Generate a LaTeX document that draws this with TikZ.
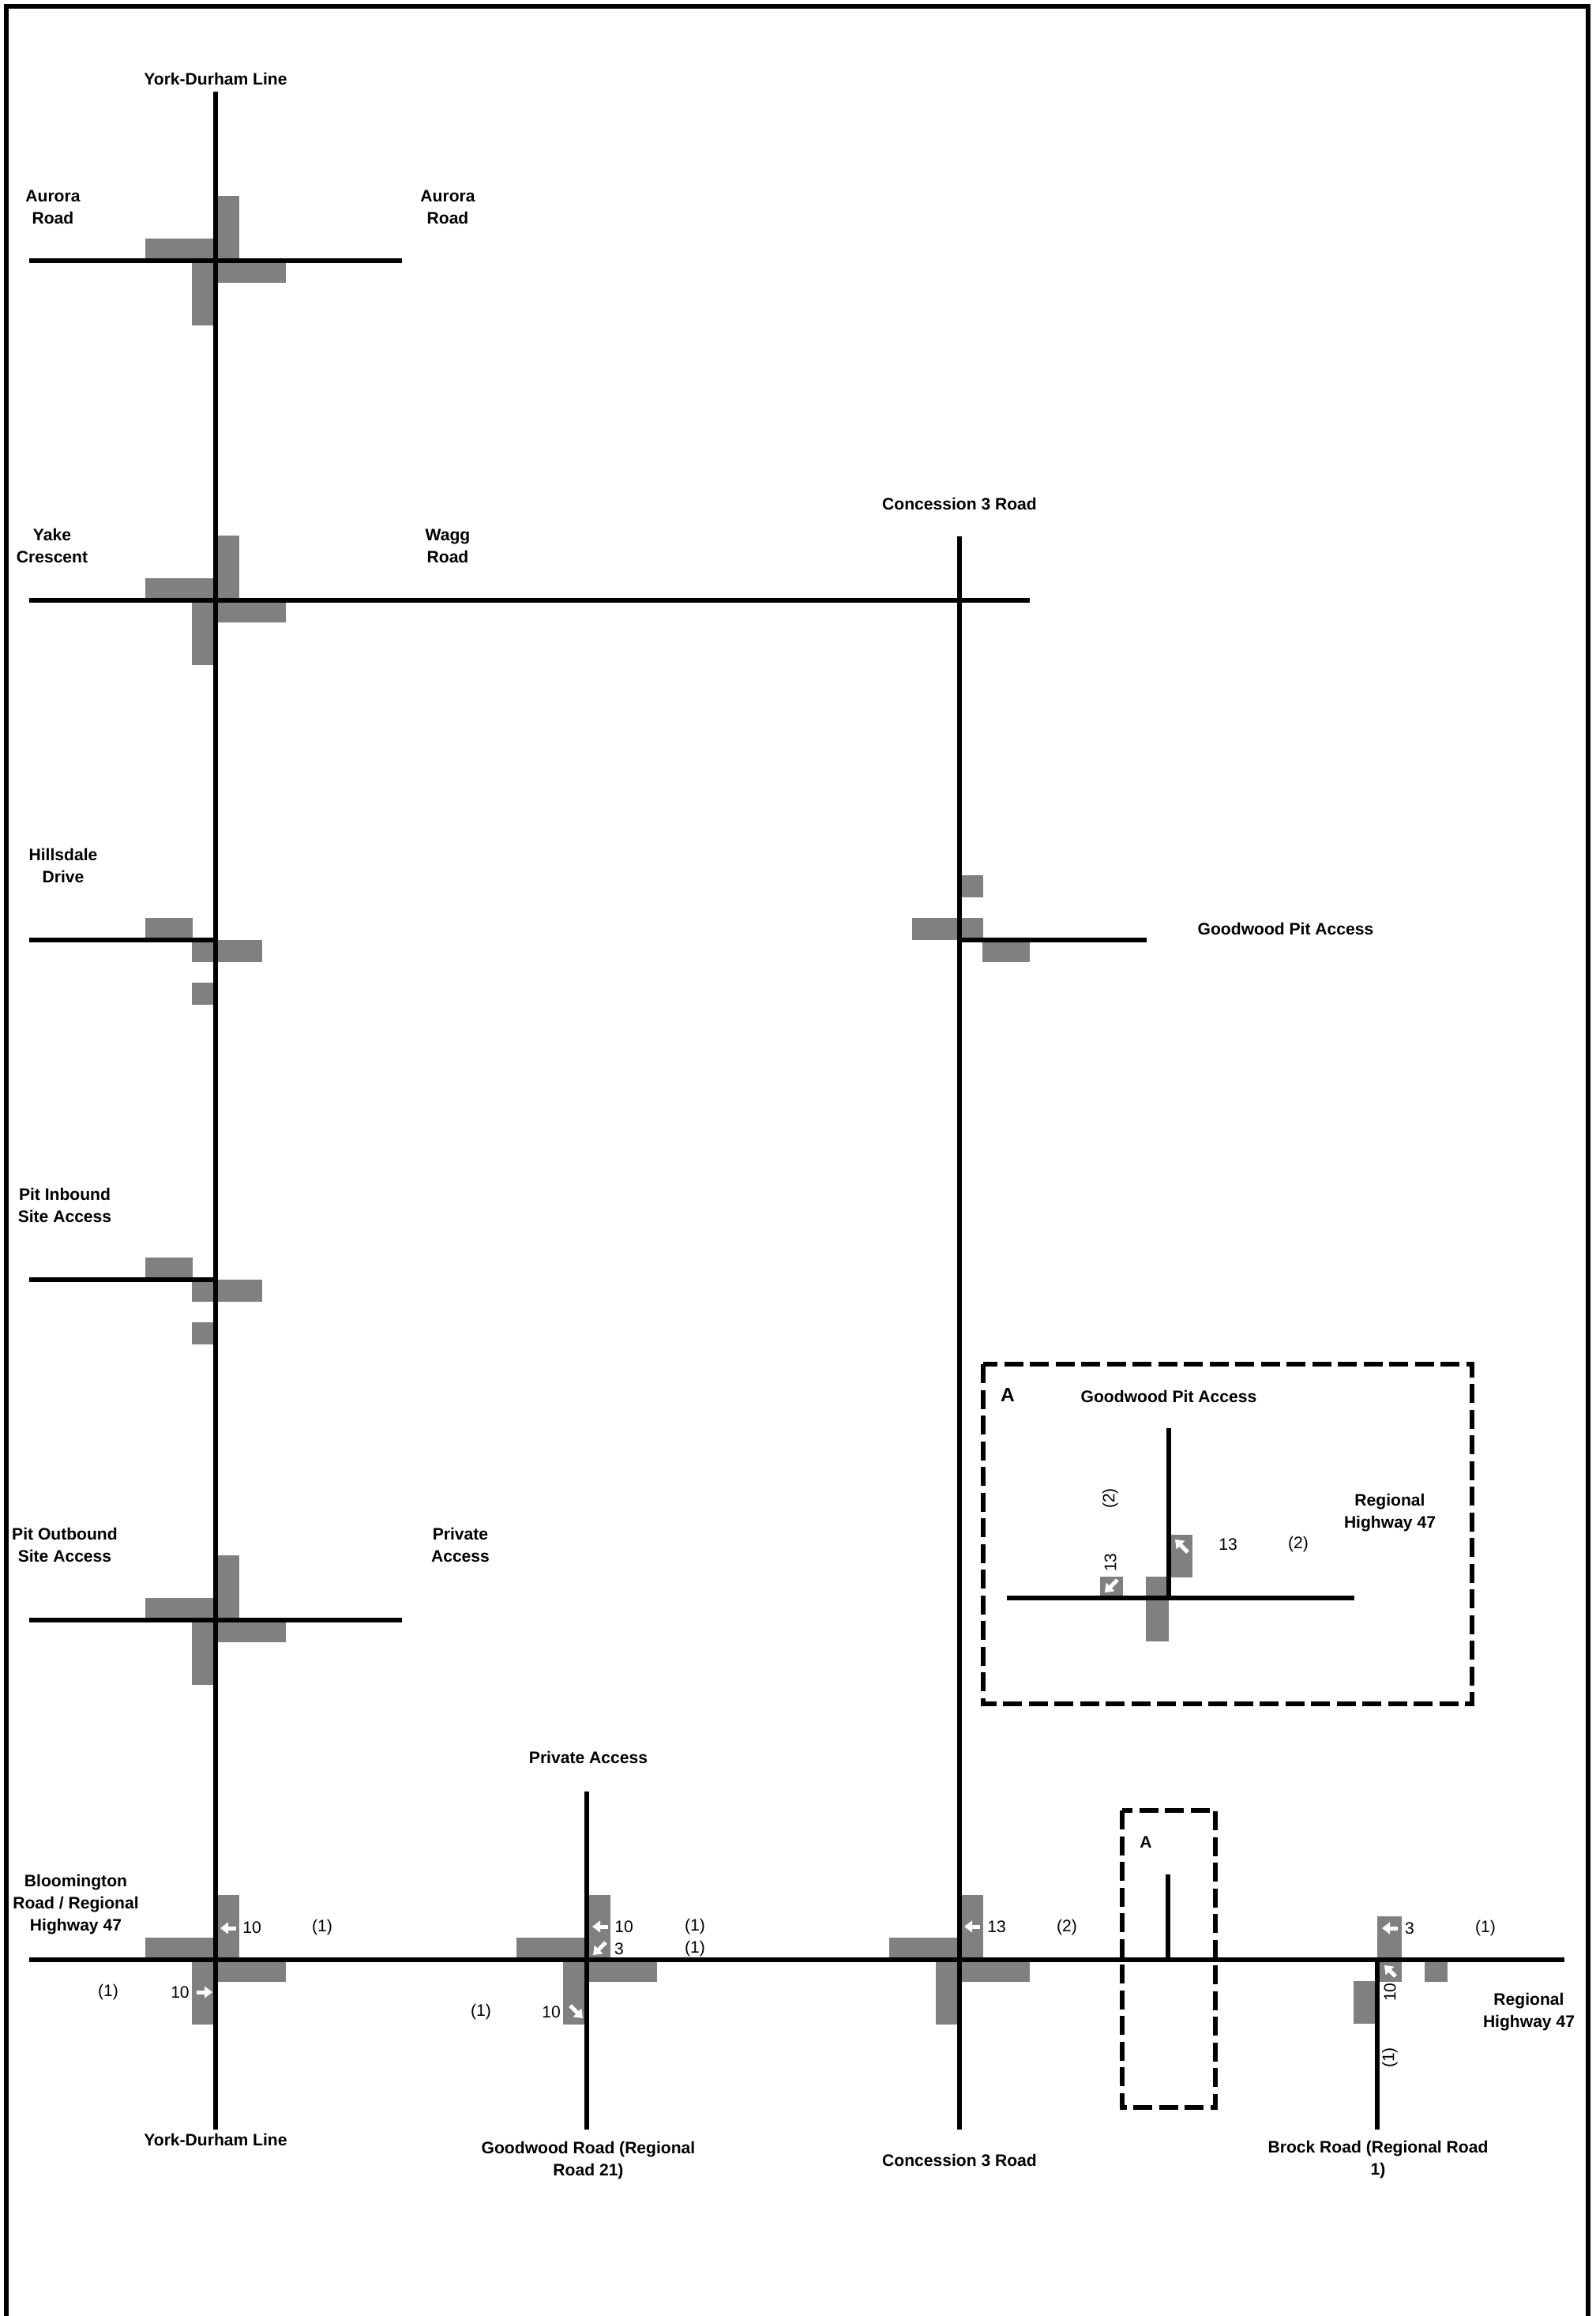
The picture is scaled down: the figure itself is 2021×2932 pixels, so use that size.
\documentclass[tikz,border=0pt]{standalone}
\usepackage{fontspec}
\setmainfont{Liberation Sans}
\usetikzlibrary{arrows.meta}
\definecolor{flowgray}{RGB}{128,128,128}

\begin{document}
\begin{tikzpicture}[x=0.1mm, y=-0.1mm,
  road/.style={line width=0.55mm},
  border/.style={line width=0.55mm},
  insetbox/.style={line width=0.55mm, dash pattern=on 2.4mm off 0.85mm},
  lbl/.style={font=\fontsize{6pt}{7.97pt}\selectfont\bfseries, align=center, inner sep=0pt},
  num/.style={font=\fontsize{6pt}{7.97pt}\selectfont, inner sep=0pt},
  arw/.style={white, line width=0.5mm, -{Triangle[length=1mm, width=1.45mm]}}]

  \useasboundingbox (0,0) rectangle (2021,2932);

  % Draw the page border (open at the bottom)
  \draw[border] (8,2945) -- (8,8) -- (2011,8) -- (2011,2945);

  % Define the columns of the north-south roads
  \def\xYD{273}
  \def\xGW{743}
  \def\xCon{1215}
  \def\xBR{1744}
  \def\yHwy{2481}

  % Gray bars of the full four-leg intersections
  \foreach \x/\y in {\xYD/330, \xYD/760, \xYD/2051, \xYD/\yHwy, \xGW/\yHwy, \xCon/\yHwy} {
    \fill[flowgray] (\x,\y-82) rectangle (\x+30,\y);
    \fill[flowgray] (\x-89,\y-28) rectangle (\x,\y);
    \fill[flowgray] (\x,\y) rectangle (\x+89,\y+28);
    \fill[flowgray] (\x-30,\y) rectangle (\x,\y+82);
  }

  % Gray bars of the site accesses on York-Durham Line
  \foreach \y in {1190,1620} {
    \fill[flowgray] (\xYD-89,\y-28) rectangle (\xYD-29,\y);
    \fill[flowgray] (\xYD-30,\y) rectangle (\xYD+59,\y+28);
    \fill[flowgray] (\xYD-30,\y+54) rectangle (\xYD,\y+82);
  }

  % Goodwood Pit Access on Concession 3 Road
  \fill[flowgray] (\xCon,1108) rectangle (\xCon+30,1136);
  \fill[flowgray] (\xCon-60,1162) rectangle (\xCon+30,1190);
  \fill[flowgray] (\xCon+29,1190) rectangle (\xCon+89,1218);

  % Brock Road
  \fill[flowgray] (\xBR,\yHwy-55) rectangle (\xBR+31,\yHwy);
  \fill[flowgray] (\xBR,\yHwy) rectangle (\xBR+31,\yHwy+28);
  \fill[flowgray] (\xBR+60,\yHwy) rectangle (\xBR+89,\yHwy+28);
  \fill[flowgray] (\xBR-30,\yHwy+27) rectangle (\xBR,\yHwy+81);

  % Inset A
  \fill[flowgray] (1480,1943) rectangle (1510,1997);
  \fill[flowgray] (1393,1996) rectangle (1422,2023);
  \fill[flowgray] (1451,1996) rectangle (1480,2078);

  % Road end points
  \coordinate (yd-top) at (\xYD,116);
  \coordinate (yd-bot) at (\xYD,2696);
  \coordinate (con-top) at (\xCon,679);
  \coordinate (con-bot) at (\xCon,2696);
  \coordinate (gw-top) at (\xGW,2268);
  \coordinate (gw-bot) at (\xGW,2696);
  \coordinate (br-top) at (\xBR,\yHwy);
  \coordinate (br-bot) at (\xBR,2696);
  \coordinate (aur-w) at (37,330);
  \coordinate (aur-e) at (509,330);
  \coordinate (wagg-w) at (37,760);
  \coordinate (wagg-e) at (1304,760);
  \coordinate (hill-w) at (37,1190);
  \coordinate (hill-e) at (\xYD,1190);
  \coordinate (pin-w) at (37,1620);
  \coordinate (pin-e) at (\xYD,1620);
  \coordinate (pout-w) at (37,2051);
  \coordinate (pout-e) at (509,2051);
  \coordinate (hwy-w) at (37,\yHwy);
  \coordinate (hwy-e) at (1981,\yHwy);
  \coordinate (pit-w) at (\xCon,1190);
  \coordinate (pit-e) at (1452,1190);
  \coordinate (stub-top) at (1479,2373);
  \coordinate (stub-bot) at (1479,\yHwy);
  \coordinate (ins-top) at (1480,1808);
  \coordinate (ins-mid) at (1480,2023);
  \coordinate (ins-w) at (1275,2023);
  \coordinate (ins-e) at (1715,2023);

  % Draw the roads
  \draw[road] (yd-top) -- (yd-bot);
  \draw[road] (con-top) -- (con-bot);
  \draw[road] (gw-top) -- (gw-bot);
  \draw[road] (br-top) -- (br-bot);
  \draw[road] (aur-w) -- (aur-e);
  \draw[road] (wagg-w) -- (wagg-e);
  \draw[road] (hill-w) -- (hill-e);
  \draw[road] (pin-w) -- (pin-e);
  \draw[road] (pout-w) -- (pout-e);
  \draw[road] (hwy-w) -- (hwy-e);
  \draw[road] (pit-w) -- (pit-e);
  \draw[road] (stub-top) -- (stub-bot);
  \draw[road] (ins-top) -- (ins-mid);
  \draw[road] (ins-w) -- (ins-e);

  % Dashed boxes
  \draw[insetbox] (1245,1727) rectangle (1864,2157);
  \draw[insetbox] (1421,2292) rectangle (1539,2668);

  % White turning arrows
  \draw[arw] (299,2441) -- (279,2441);
  \draw[arw] (249,2522) -- (269,2522);
  \draw[arw] (770,2439) -- (750,2439);
  \draw[arw] (767,2459) -- (751,2475);
  \draw[arw] (722,2539) -- (738,2555);
  \draw[arw] (1241,2439) -- (1221,2439);
  \draw[arw] (1770,2441) -- (1750,2441);
  \draw[arw] (1767,2502) -- (1753,2488);
  \draw[arw] (1504,1965) -- (1488,1949);
  \draw[arw] (1415,2000) -- (1399,2016);

  % Volumes
  \node[num] (yd-n-vol) at (319,2440) {10};
  \node[num] (yd-n-pct) at (408,2440) {(1)};
  \node[num] (yd-s-vol) at (228,2522) {10};
  \node[num] (yd-s-pct) at (137,2522) {(1)};
  \node[num] (gw-n-vol) at (790,2439) {10};
  \node[num] (gw-n-pct) at (880,2439) {(1)};
  \node[num] (gw-r-vol) at (784,2467) {3};
  \node[num] (gw-r-pct) at (880,2467) {(1)};
  \node[num] (gw-s-vol) at (698,2547) {10};
  \node[num] (gw-s-pct) at (609,2547) {(1)};
  \node[num] (con-n-vol) at (1262,2439) {13};
  \node[num] (con-n-pct) at (1351,2440) {(2)};
  \node[num] (br-n-vol) at (1785,2441) {3};
  \node[num] (br-n-pct) at (1881,2441) {(1)};
  \node[num, rotate=90] (br-s-vol) at (1760,2522) {10};
  \node[num, rotate=90] (br-s-pct) at (1760,2605) {(1)};
  \node[num, rotate=90] (ins-w-pct) at (1406,1897) {(2)};
  \node[num, rotate=90] (ins-w-vol) at (1406,1978) {13};
  \node[num] (ins-e-vol) at (1555,1955) {13};
  \node[num] (ins-e-pct) at (1644,1955) {(2)};

  % Road names
  \node[lbl] (yd-n-lbl) at (\xYD,100) {York-Durham Line};
  \node[lbl] (aur-w-lbl) at (67,262) {Aurora\\Road};
  \node[lbl] (aur-e-lbl) at (567,262) {Aurora\\Road};
  \node[lbl] (yake-lbl) at (66,691) {Yake\\Crescent};
  \node[lbl] (wagg-lbl) at (567,691) {Wagg\\Road};
  \node[lbl] (con-n-lbl) at (\xCon,638) {Concession 3 Road};
  \node[lbl] (hill-lbl) at (80,1096) {Hillsdale\\Drive};
  \node[lbl] (pit-lbl) at (1628,1176) {Goodwood Pit Access};
  \node[lbl] (pin-lbl) at (82,1526) {Pit Inbound\\Site Access};
  \node[lbl] (pout-lbl) at (82,1956) {Pit Outbound\\Site Access};
  \node[lbl] (priv-lbl) at (583,1956) {Private\\Access};
  \node[lbl] (gw-n-lbl) at (745,2225) {Private Access};
  \node[lbl] (bloom-lbl) at (96,2411) {Bloomington\\Road / Regional\\Highway 47};
  \node[lbl] (yd-s-lbl) at (\xYD,2709) {York-Durham Line};
  \node[lbl] (gw-s-lbl) at (745,2735) {Goodwood Road (Regional\\Road 21)};
  \node[lbl] (con-s-lbl) at (\xCon,2735) {Concession 3 Road};
  \node[lbl] (br-s-lbl) at (1745,2734) {Brock Road (Regional Road\\1)};
  \node[lbl] (hwy-lbl) at (1936,2547) {Regional\\Highway 47};
  \node[lbl] (stub-lbl) at (1451,2332) {A};
  \node[lbl, font=\fontsize{7pt}{8pt}\selectfont\bfseries] (ins-lbl) at (1276,1766) {A};
  \node[lbl] (ins-pit-lbl) at (1480,1768) {Goodwood Pit Access};
  \node[lbl] (ins-hwy-lbl) at (1760,1915) {Regional\\Highway 47};

\end{tikzpicture}
\end{document}
